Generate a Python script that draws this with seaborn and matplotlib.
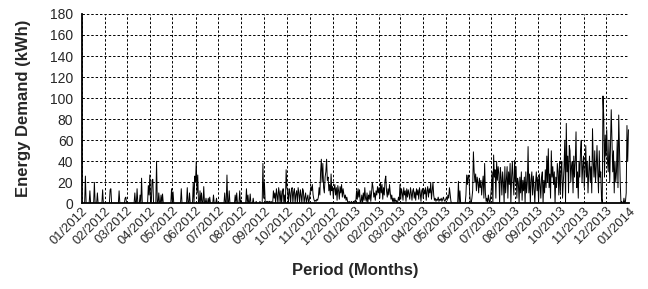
import numpy as np
import pandas as pd
import matplotlib
matplotlib.use("Agg")
import matplotlib.pyplot as plt
import matplotlib.dates as mdates
import seaborn as sns

# Daily energy demand (kWh), one list per month
jan_2012 = [0,0,0,0,0,26,0,0,0,0, 0,12,0,0,0,0,0,20,0,0, 0,10,0,0,0,0,0,0,13,0, 0]
feb_2012 = [0,0,0,0,0,0,0,13,14,0, 0,0,0,0,0,0,0,0,0,12, 0,0,0,0,0,0,0,5,6]
mar_2012 = [0,0,0,0,0,0,0,0,0,0, 0,10,0,0,14,0,0,0,8,0, 24,0,0,0,0,0,0,0,0,17, 8]
apr_2012 = [27,0,0,22,23,0,0,0,0,40, 0,0,10,0,0,8,0,9,0,0, 0,0,0,0,0,0,0,0,0,14]
may_2012 = [0,11,0,0,0,0,0,0,0,0, 0,0,14,0,0,0,0,0,0,0, 15,0,0,10,0,0,0,0,20,0, 26]
jun_2012 = [20,40,10,27,0,0,12,0,10,0, 0,16,0,0,5,0,0,5,0,6, 0,0,0,0,8,0,0,0,5,0]
jul_2012 = [0,0,0,0,0,0,0,0,0,10, 0,0,27,0,0,12,0,0,0,0, 0,0,0,8,0,10,0,0,0,12, 0]
aug_2012 = [3,0,0,0,0,0,0,14,0,8, 0,0,9,0,0,0,5,0,0,0, 2,0,0,0,0,2,0,0,0,38, 5]
sep_2012 = [20,2,0,2,2,0,2,2,0,2, 0,0,12,5,10,0,14,8,0,15, 10,0,12,0,10,14,0,8,0,32]
oct_2012 = [15,12,0,14,10,0,13,15,0,11, 14,0,9,12,0,15,10,0,13,8, 0,14,12,0,6,10,0,5,8,0, 4]
nov_2012 = [10,16,12,18,8,4,2,3,2,4, 3,6,15,8,30,42,20,38,15,10, 25,30,42,22,25,12,18,8,28,12]
dec_2012 = [16,5,14,18,8,15,3,17,12,4, 16,10,18,6,14,9,5,8,3,6, 2,0,2,1,0,2,0,1,2,0, 3]
jan_2013 = [2,12,4,14,6,13,0,2,8,0, 10,3,15,5,2,10,0,8,4,12, 2,10,20,15,6,10,3,12,8,16, 10]
feb_2013 = [15,5,20,10,18,4,15,8,22,26, 12,6,14,8,18,10,4,8,2,5, 0,5,2,3,0,2,6,3]
mar_2013 = [18,4,14,10,3,15,8,12,2,14, 6,13,9,4,15,10,3,12,14,5, 11,3,14,8,13,4,15,10,2,12, 14]
apr_2013 = [5,13,9,15,3,12,16,6,14,10, 20,4,12,20,8,3,5,2,4,3, 6,2,4,3,5,2,4,6,3,2]
may_2013 = [4,6,3,8,5,15,8,2,0,0, 0,0,0,0,0,0,0,21,0,12, 0,0,0,0,0,0,0,8,27,18, 27]
jun_2013 = [26,10,0,0,5,12,49,30,20,28, 12,25,20,10,24,15,22,8,18,26, 5,38,10,2,5,0,8,3,0,6]
jul_2013 = [15,30,0,46,25,32,5,40,22,35, 28,0,34,25,8,30,20,0,35,10, 22,35,5,30,18,38,0,25,40,20, 8]
aug_2013 = [41,20,35,5,24,20,0,25,10,30, 3,22,12,25,0,30,10,20,54,10, 28,0,22,30,8,26,15,0,20,30, 12]
sep_2013 = [25,0,28,18,5,25,30,0,22,10, 32,15,45,20,52,15,28,5,50,25, 35,18,30,0,25,15,38,30,8,40]
oct_2013 = [10,30,40,5,20,35,60,0,76,30, 45,10,55,50,20,35,40,10,45,25, 40,68,15,30,5,40,25,50,60,20, 35]
nov_2013 = [45,15,30,55,25,40,10,30,45,20, 35,10,71,40,25,50,20,35,55,30, 10,50,25,30,5,0,102,82,25,65]
dec_2013 = [45,70,40,30,60,20,55,89,60,30, 50,10,40,20,30,60,15,84,50,20, 0,2,0,0,5,0,2,10,74,40, 70]

months = [jan_2012, feb_2012, mar_2012, apr_2012, may_2012, jun_2012,
          jul_2012, aug_2012, sep_2012, oct_2012, nov_2012, dec_2012,
          jan_2013, feb_2013, mar_2013, apr_2013, may_2013, jun_2013,
          jul_2013, aug_2013, sep_2013, oct_2013, nov_2013, dec_2013]

values = []
for m in months:
    values.extend(m)
dates = pd.date_range("2012-01-01", periods=len(values), freq="D")
df = pd.DataFrame({"date": dates, "kwh": values})

tick_dates = pd.date_range("2012-01-01", "2014-01-01", freq="MS")
y_ticks = [0, 20, 40, 60, 80, 100, 120, 140, 160, 180]

sns.set_style("white")
plt.rcParams["font.family"] = ["Liberation Sans", "DejaVu Sans"]

fig = plt.figure(figsize=(6.48, 2.89), dpi=100)
ax = fig.add_axes([0.126, 0.296, 0.845, 0.656])

sns.lineplot(data=df, x="date", y="kwh", ax=ax, color="black", linewidth=0.7)

ax.set_xlim(pd.Timestamp("2012-01-01"), pd.Timestamp("2014-01-01"))
ax.set_ylim(0, 180)
ax.set_xticks(tick_dates)
ax.xaxis.set_major_formatter(mdates.DateFormatter("%m/%Y"))
ax.set_yticks(y_ticks)
ax.tick_params(axis="x", labelsize=9.3, length=0, pad=1)
ax.tick_params(axis="y", labelsize=10, length=0, pad=6)
for lbl in ax.get_xticklabels():
    lbl.set_rotation(45)
    lbl.set_ha("right")
    lbl.set_rotation_mode("anchor")

ax.grid(True, color="black", linestyle=(0, (2.5, 2)), linewidth=0.7)
ax.set_axisbelow(True)
for s in ["top", "right"]:
    ax.spines[s].set_visible(False)
for s in ["left", "bottom"]:
    ax.spines[s].set_color("black")
    ax.spines[s].set_linewidth(1.3)

ax.set_xlabel("Period (Months)", fontsize=12, fontweight="bold", labelpad=12)
ax.set_ylabel("Energy Demand (kWh)", fontsize=12, fontweight="bold", labelpad=14)

fig.savefig("out.png", dpi=100)
